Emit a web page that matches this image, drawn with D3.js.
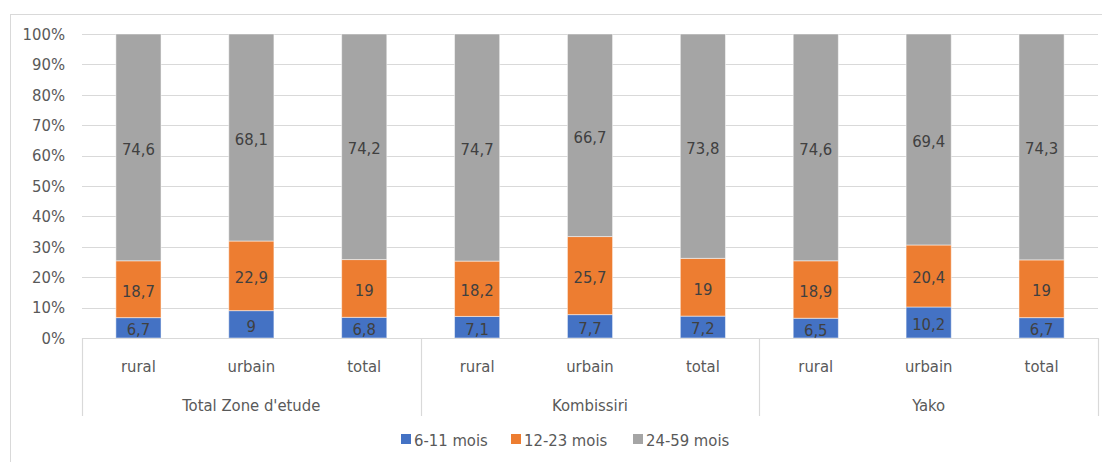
<!DOCTYPE html>
<html>
<head>
<meta charset="utf-8">
<script src="https://cdn.jsdelivr.net/npm/d3@7"></script>
<style>
  html, body { margin: 0; padding: 0; background: #fff; }
  svg { display: block; font-family: "DejaVu Sans Condensed", "Liberation Sans", sans-serif; }
</style>
</head>
<body>
<svg id="chart" width="1102" height="462"></svg>
<script>
// Zones and residence types (two-level category axis)
const zones = ["Total Zone d'etude", "Kombissiri", "Yako"];
const milieux = ["rural", "urbain", "total"];

// Age-group shares (%) per zone × residence, in order of zones then milieux
const series = ["6-11 mois", "12-23 mois", "24-59 mois"];
const age6_11  = [6.7, 9, 6.8,   7.1, 7.7, 7.2,   6.5, 10.2, 6.7];
const age12_23 = [18.7, 22.9, 19, 18.2, 25.7, 19, 18.9, 20.4, 19];
const age24_59 = [74.6, 68.1, 74.2, 74.7, 66.7, 73.8, 74.6, 69.4, 74.3];

const yTicks = [0, 0.1, 0.2, 0.3, 0.4, 0.5, 0.6, 0.7, 0.8, 0.9, 1];
const colors = ["#4472C4", "#ED7D31", "#A5A5A5"];

const svg = d3.select("#chart");
const margin = { left: 82, right: 4, top: 34, bottom: 124 };
const W = 1102, H = 462;
const x0 = margin.left, x1 = W - margin.right;
const yTop = margin.top, yBot = H - margin.bottom;

// Outer chart frame
svg.append("rect")
  .attr("x", 10.5).attr("y", 14.5)
  .attr("width", W + 20).attr("height", H + 20)
  .attr("fill", "none").attr("stroke", "#d9d9d9");

// Build rows
const rows = [];
zones.forEach((z, zi) => milieux.forEach((m, mi) => {
  const i = zi * 3 + mi;
  rows.push({ key: z + "|" + m, zone: z, milieu: m,
    vals: [age6_11[i], age12_23[i], age24_59[i]] });
}));

const x = d3.scaleBand().domain(rows.map(r => r.key)).range([x0, x1]).paddingInner(0.6).paddingOuter(0.3);
const y = d3.scaleLinear().domain([0, 1]).range([yBot, yTop]);

// Gridlines
svg.append("g").selectAll("line").data(yTicks.slice(1)).join("line")
  .attr("x1", x0).attr("x2", x1)
  .attr("y1", d => Math.round(y(d)) + 0.5).attr("y2", d => Math.round(y(d)) + 0.5)
  .attr("stroke", "#d9d9d9").attr("stroke-width", 1.2);

// Y axis labels
const yAxis = d3.axisLeft(y).tickValues(yTicks).tickFormat(d3.format(".0%")).tickSize(0).tickPadding(17);
const gy = svg.append("g").attr("transform", `translate(${x0},0)`).call(yAxis);
gy.select(".domain").remove();
gy.selectAll("text").attr("fill", "#595959").style("font-size", "16.5px")
  .style("font-family", "'DejaVu Sans Condensed', 'Liberation Sans', sans-serif");

// Stacked bars (normalized to 100%)
const stacked = rows.map(r => {
  const tot = d3.sum(r.vals);
  let acc = 0;
  return r.vals.map((v, si) => {
    const seg = { key: r.key, si, v, y0: acc / tot, y1: (acc + v) / tot };
    acc += v;
    return seg;
  });
}).flat();

svg.append("g").selectAll("rect").data(stacked).join("rect")
  .attr("x", d => x(d.key))
  .attr("width", x.bandwidth())
  .attr("y", d => y(d.y1))
  .attr("height", d => y(d.y0) - y(d.y1))
  .attr("fill", d => colors[d.si])
  .attr("stroke", "#ffffff").attr("stroke-opacity", 0.5).attr("stroke-width", 1);

// Value labels
const fmt = v => String(v).replace(".", ",");
svg.append("g").selectAll("text").data(stacked).join("text")
  .attr("x", d => x(d.key) + x.bandwidth() / 2)
  .attr("y", d => (y(d.y0) + y(d.y1)) / 2)
  .attr("dy", "0.45em")
  .attr("text-anchor", "middle")
  .attr("fill", "#404040")
  .style("font-size", "16.5px")
  .text(d => fmt(d.v));

// Category axis: baseline, group separators, labels
const axisG = svg.append("g");
axisG.append("line")
  .attr("x1", x0).attr("x2", x1).attr("y1", yBot + 0.5).attr("y2", yBot + 0.5)
  .attr("stroke", "#d9d9d9").attr("stroke-width", 1.2);

const groupW = (x1 - x0) / zones.length;
const seps = d3.range(zones.length + 1).map(i => x0 + i * groupW);
axisG.selectAll("line.sep").data(seps).join("line").attr("class", "sep")
  .attr("x1", d => Math.round(d) + 0.5).attr("x2", d => Math.round(d) + 0.5)
  .attr("y1", yBot).attr("y2", 416)
  .attr("stroke", "#d9d9d9").attr("stroke-width", 1.2);

axisG.selectAll("text.sub").data(rows).join("text").attr("class", "sub")
  .attr("x", d => x(d.key) + x.bandwidth() / 2)
  .attr("y", 372)
  .attr("text-anchor", "middle").attr("fill", "#595959").style("font-size", "16.5px")
  .text(d => d.milieu);

axisG.selectAll("text.grp").data(zones).join("text").attr("class", "grp")
  .attr("x", (d, i) => x0 + (i + 0.5) * groupW)
  .attr("y", 411)
  .attr("text-anchor", "middle").attr("fill", "#595959").style("font-size", "16.5px")
  .text(d => d);

// Legend
const legendX = [401, 511, 633];
const lg = svg.append("g").selectAll("g").data(series).join("g")
  .attr("transform", (d, i) => `translate(${legendX[i]},434)`);
lg.append("rect").attr("width", 10).attr("height", 10).attr("fill", (d, i) => colors[i]);
lg.append("text").attr("x", 13).attr("y", 5).attr("dy", "0.4em")
  .attr("fill", "#595959").style("font-size", "16.5px").text(d => d);
</script>
</body>
</html>
